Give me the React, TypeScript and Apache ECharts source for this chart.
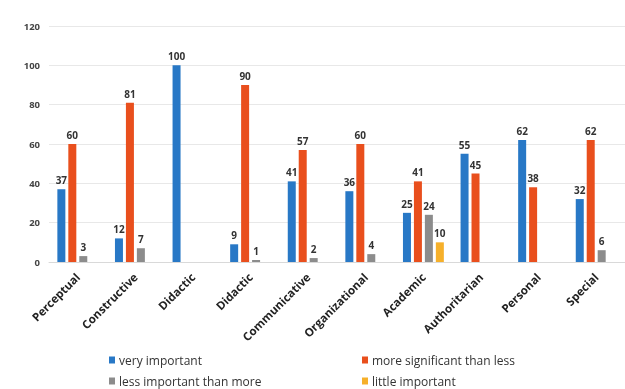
import React, { useEffect, useRef } from "react";
import * as echarts from "echarts";

const categories = ["Perceptual", "Constructive", "Didactic", "Didactic", "Communicative", "Organizational", "Academic", "Authoritarian", "Personal", "Special"];
const veryImportant = [37, 12, 100, 9, 41, 36, 25, 55, 62, 32];
const moreSignificant = [60, 81, null, 90, 57, 60, 41, 45, 38, 62];
const lessImportant = [3, 7, null, 1, 2, 4, 24, null, null, 6];
const littleImportant = [null, null, null, null, null, null, 10, null, null, null];
const seriesNames = ["very important", "more significant than less", "less important than more", "little important"];
const colors = ["#2878C6", "#E94F1D", "#8C8C8C", "#F6B02A"];
const yMax = 120;
const yInterval = 20;

export default function App() {
  const ref = useRef<HTMLDivElement>(null);
  useEffect(() => {
    if (!ref.current) return;
    const chart = echarts.init(ref.current, null, { renderer: "svg" });
    const font = "'Open Sans', 'Liberation Sans', sans-serif";
    const dataSets = [veryImportant, moreSignificant, lessImportant, littleImportant];
    const legendPos = [
      { left: 104, top: 349 },
      { left: 357, top: 349 },
      { left: 104, top: 370 },
      { left: 357, top: 370 },
    ];
    chart.setOption({
      animation: false,
      color: colors,
      grid: { left: 49, right: -15, top: 26, bottom: 127 },
      xAxis: {
        type: "category",
        data: categories,
        axisLine: { show: true, lineStyle: { color: "#d9d9d9" } },
        axisTick: { show: false },
        axisLabel: {
          rotate: 45,
          interval: 0,
          fontFamily: font,
          fontSize: 11.5,
          fontWeight: "bold",
          color: "#222",
          margin: 13,
        },
      },
      yAxis: {
        type: "value",
        min: 0,
        max: yMax,
        interval: yInterval,
        axisLine: { show: false },
        axisTick: { show: false },
        splitLine: { lineStyle: { color: "#e8e8e8" } },
        axisLabel: { fontFamily: font, fontSize: 9.5, fontWeight: "bold", color: "#444", margin: 9 },
      },
      legend: legendPos.map((p, i) => ({
        data: [seriesNames[i]],
        left: p.left,
        top: p.top,
        orient: "horizontal",
        icon: "rect",
        itemWidth: 6,
        itemHeight: 7,
        itemGap: 4,
        textStyle: { fontFamily: font, fontSize: 12, color: "#333", padding: [0, 0, 0, -1] },
      })),
      series: dataSets.map((d, i) => ({
        name: seriesNames[i],
        type: "bar",
        data: d,
        barWidth: 8,
        barGap: "37%",
        itemStyle: { color: colors[i] },
        label: {
          show: true,
          position: "top",
          fontFamily: font,
          fontSize: 10,
          fontWeight: "bold",
          color: "#333",
          distance: 4,
        },
      })),
    });
    return () => chart.dispose();
  }, []);
  return <div ref={ref} style={{ position: "fixed", left: 0, top: 0, width: 625, height: 389 }} />;
}
